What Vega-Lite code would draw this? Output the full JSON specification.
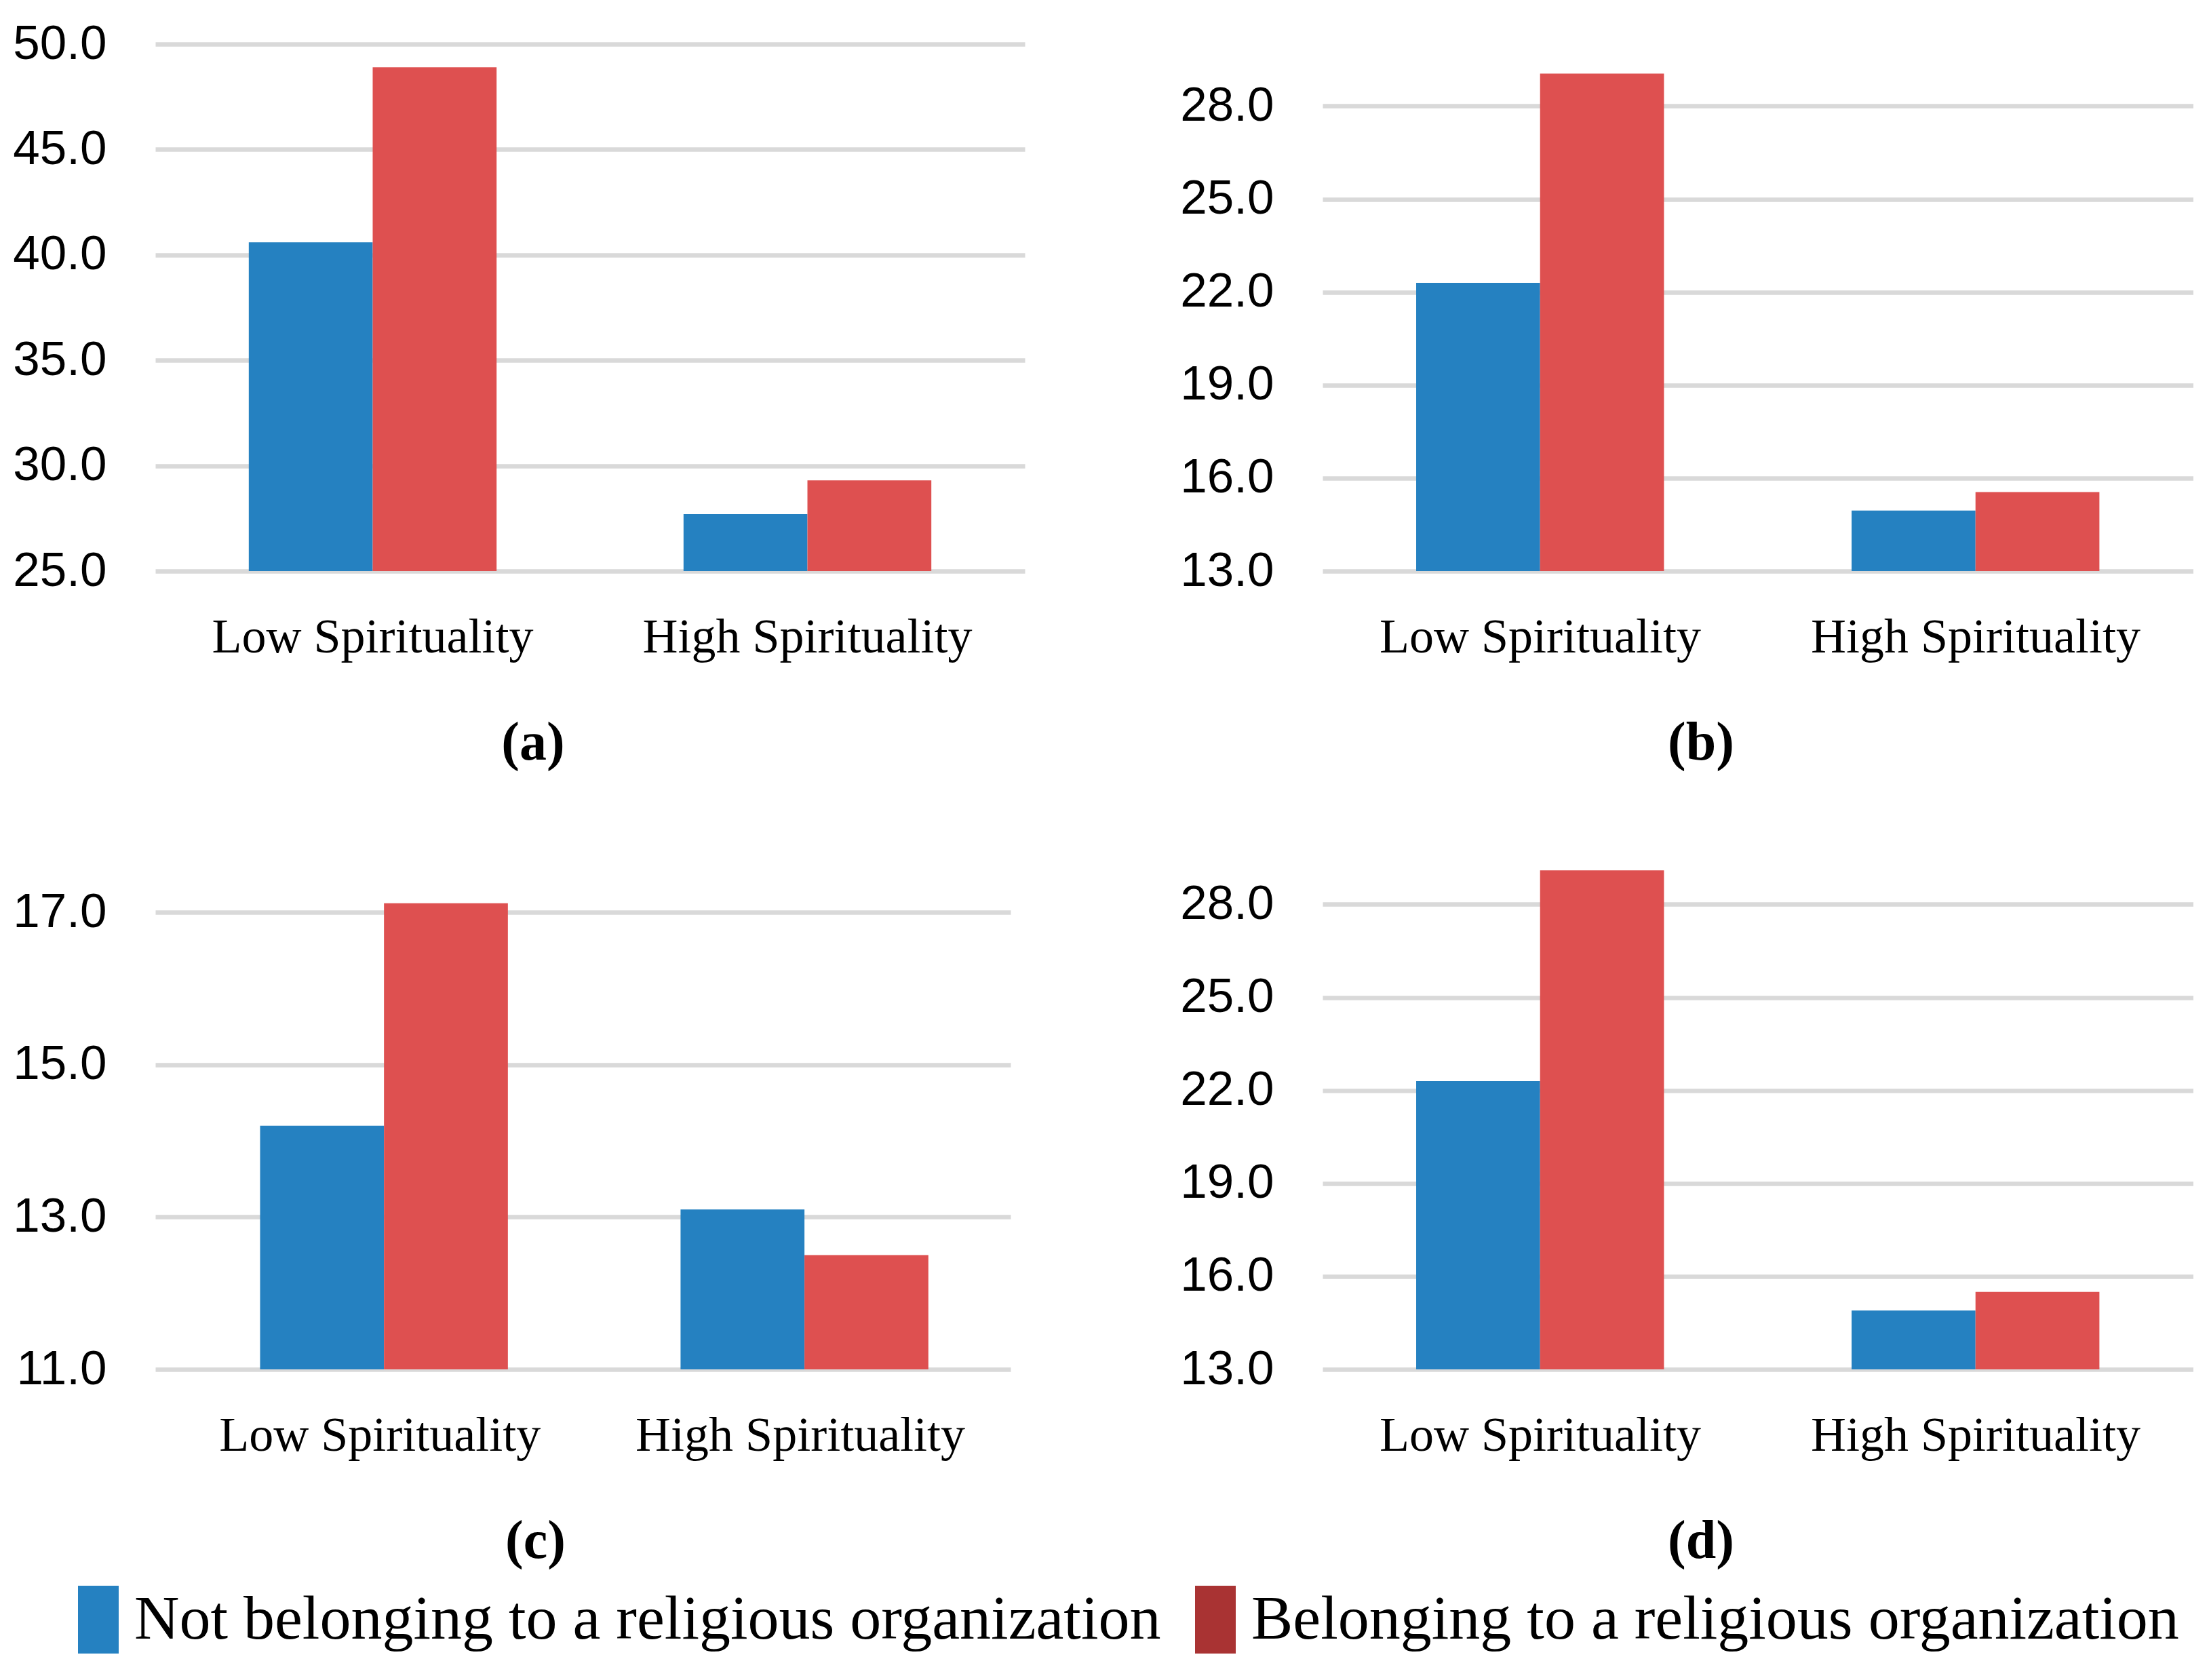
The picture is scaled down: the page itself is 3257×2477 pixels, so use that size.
{
  "$schema": "https://vega.github.io/schema/vega-lite/v6.json",
  "background": "white",
  "padding": {"left": 18, "top": 29, "right": 0, "bottom": 0},
  "datasets": {
    "bars": [
      {"panel": "a", "spirit": "Low Spirituality", "group": "Not belonging to a religious organization", "value": 40.6},
      {"panel": "a", "spirit": "Low Spirituality", "group": "Belonging to a religious organization", "value": 48.9},
      {"panel": "a", "spirit": "High Spirituality", "group": "Not belonging to a religious organization", "value": 27.7},
      {"panel": "a", "spirit": "High Spirituality", "group": "Belonging to a religious organization", "value": 29.3},
      {"panel": "b", "spirit": "Low Spirituality", "group": "Not belonging to a religious organization", "value": 22.3},
      {"panel": "b", "spirit": "Low Spirituality", "group": "Belonging to a religious organization", "value": 29.05},
      {"panel": "b", "spirit": "High Spirituality", "group": "Not belonging to a religious organization", "value": 14.95},
      {"panel": "b", "spirit": "High Spirituality", "group": "Belonging to a religious organization", "value": 15.55},
      {"panel": "c", "spirit": "Low Spirituality", "group": "Not belonging to a religious organization", "value": 14.2},
      {"panel": "c", "spirit": "Low Spirituality", "group": "Belonging to a religious organization", "value": 17.12},
      {"panel": "c", "spirit": "High Spirituality", "group": "Not belonging to a religious organization", "value": 13.1},
      {"panel": "c", "spirit": "High Spirituality", "group": "Belonging to a religious organization", "value": 12.5},
      {"panel": "d", "spirit": "Low Spirituality", "group": "Not belonging to a religious organization", "value": 22.3},
      {"panel": "d", "spirit": "Low Spirituality", "group": "Belonging to a religious organization", "value": 29.1},
      {"panel": "d", "spirit": "High Spirituality", "group": "Not belonging to a religious organization", "value": 14.9},
      {"panel": "d", "spirit": "High Spirituality", "group": "Belonging to a religious organization", "value": 15.5}
    ]
  },
  "data": {"name": "bars"},
  "vconcat": [
    {
      "spacing": 228,
      "hconcat": [
        {
          "width": 1282,
          "height": 777,
          "title": "(a)",
          "transform": [{"filter": "datum.panel === 'a'"}],
          "mark": {"type": "bar", "clip": true},
          "encoding": {
            "x": {"field": "spirit", "type": "nominal", "sort": ["Low Spirituality", "High Spirituality"], "title": null, "scale": {"paddingInner": 0.43, "paddingOuter": 0.215}},
            "xOffset": {"field": "group", "sort": ["Not belonging to a religious organization", "Belonging to a religious organization"], "scale": {"paddingInner": 0, "paddingOuter": 0}},
            "y": {"field": "value", "type": "quantitative", "title": null, "scale": {"domain": [25, 50], "zero": false, "nice": false}, "axis": {"values": [25, 30, 35, 40, 45, 50]}},
            "color": {
              "field": "group",
              "type": "nominal",
              "title": null,
              "scale": {"domain": ["Not belonging to a religious organization", "Belonging to a religious organization"], "range": ["#2581C1", "#DE5050"]},
              "legend": {
                "encode": {
                  "symbols": {
                    "update": {
                      "stroke": {"signal": "datum.value === 'Belonging to a religious organization' ? '#A93333' : '#2581C1'"},
                      "strokeWidth": {"value": 60},
                      "strokeCap": {"value": "butt"},
                      "strokeOpacity": {"value": 1}
                    }
                  }
                }
              }
            }
          }
        },
        {
          "width": 1284,
          "height": 777,
          "title": "(b)",
          "transform": [{"filter": "datum.panel === 'b'"}],
          "mark": {"type": "bar", "clip": true},
          "encoding": {
            "x": {"field": "spirit", "type": "nominal", "sort": ["Low Spirituality", "High Spirituality"], "title": null, "scale": {"paddingInner": 0.43, "paddingOuter": 0.215}},
            "xOffset": {"field": "group", "sort": ["Not belonging to a religious organization", "Belonging to a religious organization"], "scale": {"paddingInner": 0, "paddingOuter": 0}},
            "y": {"field": "value", "type": "quantitative", "title": null, "scale": {"domain": [13, 30], "zero": false, "nice": false}, "axis": {"values": [13, 16, 19, 22, 25, 28]}},
            "color": {"field": "group", "type": "nominal", "title": null}
          }
        }
      ]
    },
    {
      "spacing": 249,
      "hconcat": [
        {
          "width": 1261,
          "height": 777,
          "title": {"text": "(c)", "dx": 35},
          "transform": [{"filter": "datum.panel === 'c'"}],
          "mark": {"type": "bar", "clip": true},
          "encoding": {
            "x": {"field": "spirit", "type": "nominal", "sort": ["Low Spirituality", "High Spirituality"], "title": null, "scale": {"paddingInner": 0.43, "paddingOuter": 0.232, "align": 0.537}},
            "xOffset": {"field": "group", "sort": ["Not belonging to a religious organization", "Belonging to a religious organization"], "scale": {"paddingInner": 0, "paddingOuter": 0}},
            "y": {"field": "value", "type": "quantitative", "title": null, "scale": {"domain": [11, 17.92], "zero": false, "nice": false}, "axis": {"values": [11, 13, 15, 17]}},
            "color": {"field": "group", "type": "nominal", "title": null}
          }
        },
        {
          "width": 1284,
          "height": 777,
          "title": "(d)",
          "transform": [{"filter": "datum.panel === 'd'"}],
          "mark": {"type": "bar", "clip": true},
          "encoding": {
            "x": {"field": "spirit", "type": "nominal", "sort": ["Low Spirituality", "High Spirituality"], "title": null, "scale": {"paddingInner": 0.43, "paddingOuter": 0.215}},
            "xOffset": {"field": "group", "sort": ["Not belonging to a religious organization", "Belonging to a religious organization"], "scale": {"paddingInner": 0, "paddingOuter": 0}},
            "y": {"field": "value", "type": "quantitative", "title": null, "scale": {"domain": [13, 30], "zero": false, "nice": false}, "axis": {"values": [13, 16, 19, 22, 25, 28]}},
            "color": {"field": "group", "type": "nominal", "title": null}
          }
        }
      ]
    }
  ],
  "spacing": 106,
  "resolve": {"scale": {"color": "shared"}},
  "config": {
    "view": {"stroke": null},
    "axisX": {
      "domain": false,
      "ticks": false,
      "tickSize": 0,
      "labelPadding": 62,
      "labelFont": "Liberation Serif",
      "labelFontSize": 72,
      "labelColor": "black",
      "labelAngle": 0,
      "labelLimit": 1000
    },
    "axisY": {
      "domain": false,
      "ticks": false,
      "tickSize": 0,
      "labelPadding": 72,
      "labelFont": "Liberation Sans",
      "labelFontSize": 71,
      "labelColor": "black",
      "format": ".1f",
      "grid": true,
      "gridColor": "#D9D9D9",
      "gridWidth": 6.5,
      "minExtent": 210,
      "maxExtent": 210
    },
    "title": {
      "orient": "bottom",
      "frame": "bounds",
      "anchor": "middle",
      "font": "Liberation Serif",
      "fontSize": 80,
      "fontWeight": "bold",
      "color": "black",
      "offset": 82,
      "dx": 21
    },
    "legend": {
      "orient": "none",
      "legendX": -164,
      "legendY": 2243,
      "direction": "horizontal",
      "padding": 0,
      "symbolType": "M0,-1V1",
      "symbolSize": 10000,
      "symbolStrokeWidth": 0,
      "labelFont": "Liberation Serif",
      "labelFontSize": 92,
      "labelColor": "black",
      "labelOffset": -27,
      "labelLimit": 3000,
      "columnPadding": -92,
      "symbolOpacity": 1
    }
  }
}
